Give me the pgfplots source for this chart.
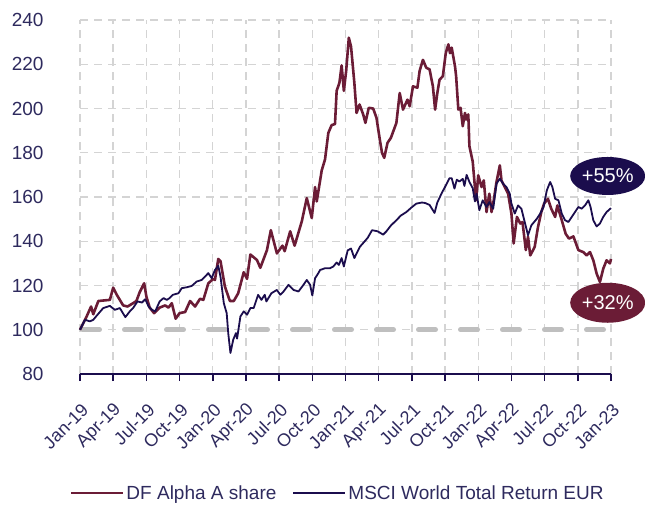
\documentclass[border=0pt]{standalone}
\usepackage{pgfplots}
\pgfplotsset{compat=1.18}
\usepackage{fontspec}
\setmainfont{Liberation Sans}
\usetikzlibrary{shapes.geometric}
\definecolor{burg}{HTML}{6B1C36}
\definecolor{navy}{HTML}{1B0D4D}
\definecolor{labcol}{HTML}{2E2A5E}
\definecolor{gridcol}{HTML}{D4D4D4}
\definecolor{basecol}{HTML}{BFBFBF}
\pgfplotstableread{
m v
0 100
0.15 101.5
0.6 106
1.0 110.5
1.2 107
1.66 113
2.7 113.5
3.0 119
3.3 116
3.9 111
4.3 110.5
4.8 112
5.1 113
5.4 117
5.8 121
6.0 115
6.3 110
6.7 107.5
7.2 110
7.7 111
8.0 110
8.3 112
8.65 105
9.0 107.5
9.5 108
9.95 113
10.4 110.5
10.85 114
11.15 113.5
11.6 121
12.05 123
12.2 122.5
12.5 132
12.7 131
13.1 119.5
13.55 113
13.9 113
14.3 116.5
14.8 126
15.1 123
15.4 134
16.0 131.5
16.3 128
16.9 136
17.25 145
17.8 134.5
18.3 138
18.5 135.5
19.0 144.5
19.4 138
20.05 149
20.5 159.5
20.95 150.5
21.25 164.5
21.4 158
21.85 172
22.15 177
22.45 189
22.75 192.5
23.05 193
23.2 208
23.45 211.6
23.65 219.5
23.85 208
24.06 217
24.3 232
24.5 228
24.8 211.6
25.0 198
25.27 201.8
25.6 197.3
25.8 193.5
26.1 200.3
26.5 200
26.8 195.8
27.1 186
27.3 180
27.5 177.7
27.8 184.5
28.1 186.7
28.6 193.5
28.9 207
29.2 199.5
29.6 204
29.8 201
30.1 210
30.5 209.4
30.7 217
31.0 222
31.3 218.4
31.6 217.7
31.9 210
32.1 199.5
32.3 207
32.5 213
32.8 214.6
33.06 225
33.3 229
33.45 225
33.6 227.5
33.9 219
34.0 214.6
34.2 199.5
34.4 200.3
34.6 192
34.8 198
34.9 195
35.1 197.3
35.2 183
35.5 176
35.8 158.5
36.0 169.8
36.3 164.5
36.5 167.5
36.75 153.2
37.0 161.5
37.2 153.2
37.4 158.5
37.65 166.8
37.95 174.3
38.1 167.5
38.4 164.5
38.7 161.5
39.0 152.5
39.2 139
39.5 151
39.8 148
40.0 148.7
40.3 136
40.5 142
40.7 133.6
41.1 137.4
41.4 146.4
41.7 153.2
41.95 157
42.3 159.2
42.6 154.7
42.95 151
43.15 156.2
43.55 149.5
43.9 143.4
44.2 141.2
44.6 142.2
45.05 136
45.5 135.1
45.8 133.6
46.1 135.1
46.4 131.4
46.7 125.4
47.0 121.6
47.3 127.6
47.6 131.4
47.9 130
48.0 132
}\dfalpha
\pgfplotstableread{
m v
0 100
0.15 101.5
0.45 104.5
0.9 103.8
1.2 104.5
1.5 106.3
2.1 109.8
2.7 110.8
3.15 109
3.6 109.8
4.1 105.7
4.5 108.3
4.8 109.8
5.2 112.8
5.6 112.3
5.9 113.8
6.2 110.5
6.5 109
6.8 108.3
7.2 112.8
7.55 114.3
7.85 113.5
8.1 114.3
8.4 115.8
8.9 116.5
9.2 118.8
9.65 119.2
10.1 119.8
10.55 121.8
11.0 122.5
11.3 124
11.6 125.6
11.9 123.3
12.2 127
12.5 128.9
12.7 124
13.0 112
13.26 107.5
13.4 98.5
13.6 89.5
13.85 95.5
14.1 98.5
14.2 96
14.5 106
14.8 108.3
15.1 106.8
15.4 109.8
15.7 109.8
16.1 115.8
16.4 113.5
16.7 115.8
16.85 112.8
17.3 116.5
17.8 118
18.1 115.8
18.4 117.3
18.85 120.3
19.3 118
19.75 117.3
20.2 120.3
20.5 122.5
20.8 120.3
21.0 115.5
21.25 123.3
21.55 125.6
21.7 127
22.15 127.8
22.6 127.8
22.9 128.6
23.2 130.4
23.4 129.3
23.65 132.4
23.85 128.6
24.2 135.9
24.5 136.7
24.8 132.4
25.3 137.5
25.6 139.2
26.0 141.5
26.4 145
26.9 144.5
27.4 143
27.7 144.5
28.1 147.1
28.6 149.5
29.0 151.6
29.5 153.2
29.95 155.2
30.4 157
30.9 157.5
31.2 157.3
31.6 156.4
32.05 152.8
32.3 157.5
32.7 161.8
33.1 165.5
33.4 168.5
33.6 168.5
33.85 163.8
34.06 167.8
34.3 167
34.6 168.2
34.75 165
34.95 170
35.2 166.8
35.5 164
35.7 158
35.85 161.5
36.1 154
36.4 158.5
36.75 155.5
37.0 157.7
37.35 154.7
37.65 166
37.95 168.3
38.25 166
38.55 164.5
38.85 161.5
39.0 157
39.3 152.5
39.6 156.2
39.9 154.7
40.2 148.7
40.5 142.7
40.8 147.2
41.3 150.2
41.6 152.5
41.9 155.5
42.2 163
42.5 166.8
42.7 164.5
42.95 159.2
43.25 158.5
43.55 152.5
43.85 149.5
44.15 148.7
44.45 151
44.75 153.2
45.05 155.5
45.35 154.7
45.65 156.2
45.95 158.5
46.15 155.5
46.4 149.5
46.7 146.7
47.0 148
47.3 151
47.6 153.2
48.0 155
}\msci
\begin{document}
\begin{tikzpicture}
\begin{axis}[name=ax, scale only axis, width=531pt, height=354pt,
  xmin=0, xmax=48, ymin=80, ymax=240,
  xtick={0,3,...,48},
  xticklabels={Jan-19,Apr-19,Jul-19,Oct-19,Jan-20,Apr-20,Jul-20,Oct-20,Jan-21,Apr-21,Jul-21,Oct-21,Jan-22,Apr-22,Jul-22,Oct-22,Jan-23},
  ytick={80,100,...,240},
  axis x line*=bottom, axis y line*=left,
  y axis line style={draw=none},
  x axis line style={navy, line width=1.5pt, -},
  xtick style={draw=navy, line width=1.5pt, solid},
  ytick style={/pgfplots/major tick length=0pt},
  tick align=outside, major tick length=7pt,
  grid=major,
  major grid style={gridcol, line width=1.4pt, dash pattern=on 8pt off 6pt},
  tick label style={font=\fontsize{19}{22}\selectfont, text=labcol},
  xticklabel style={font=\fontsize{18}{20}\selectfont, xshift=6pt, yshift=-25pt, rotate=45, anchor=east, inner sep=1pt},
  yticklabel style={anchor=east, xshift=-26pt},
  /pgf/number format/assume math mode=true,
  clip=false,
  legend style={draw=none, fill=none, at={(0.486,-0.336)}, anchor=center,
    font=\fontsize{19}{22}\selectfont, text=labcol,
    /tikz/every even column/.append style={column sep=14pt}},
  legend columns=2,
  legend image code/.code={\draw[#1, line width=2pt] (0pt,0pt) -- (52pt,0pt);},
]
\addplot[basecol, line width=5pt, line cap=round, dash pattern=on 17pt off 25pt, dash phase=-2.5pt, forget plot] coordinates {(0,100) (48,100)};
\addplot[burg, line width=2.6pt, line join=round] table[x=m, y=v] {\dfalpha};
\addplot[navy, line width=1.8pt, line join=round] table[x=m, y=v] {\msci};
\legend{DF Alpha A share, MSCI World Total Return EUR}
\pgfplotsinvokeforeach{0,3,...,48}{\draw[navy, line width=1.5pt] (axis cs:#1,80) -- ++(0pt,-7pt);}
\node[ellipse, fill=navy, text=white, minimum width=75pt, minimum height=38pt, inner sep=0pt, font=\fontsize{20}{22}\selectfont] at (axis cs:47.7,169.5) {+55\%};
\node[ellipse, fill=burg, text=white, minimum width=75pt, minimum height=40pt, inner sep=0pt, font=\fontsize{20}{22}\selectfont] at (axis cs:47.7,112.2) {+32\%};
\end{axis}
\pgfresetboundingbox
\path[use as bounding box] ([xshift=-80pt,yshift=-132pt]ax.south west) rectangle ([xshift=34pt,yshift=20pt]ax.north east);
\end{tikzpicture}
\end{document}
